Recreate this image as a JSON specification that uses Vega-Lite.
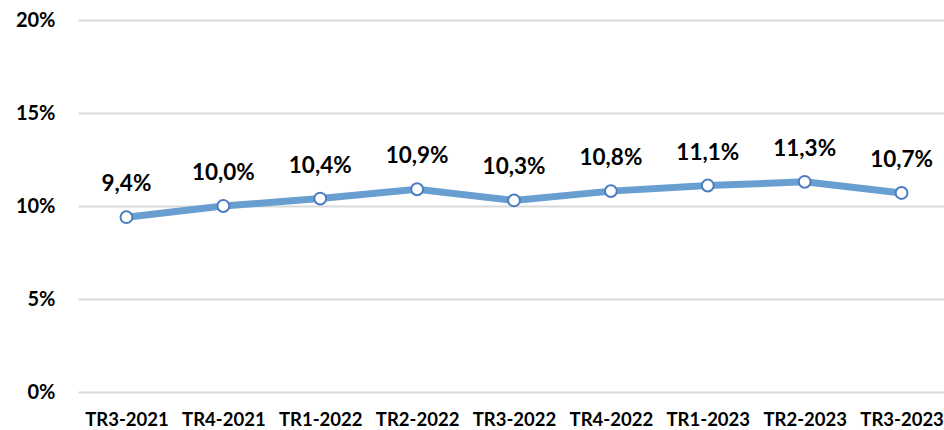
{
  "$schema": "https://vega.github.io/schema/vega-lite/v6.json",
  "width": 872,
  "height": 372,
  "autosize": "none",
  "padding": {"left": 78, "top": 20, "right": 0, "bottom": 38},
  "background": "white",
  "config": {"view": {"stroke": null}, "font": "Lato"},
  "data": {"values": [
    {"q": "TR3-2021", "v": 9.4},
    {"q": "TR4-2021", "v": 10.0},
    {"q": "TR1-2022", "v": 10.4},
    {"q": "TR2-2022", "v": 10.9},
    {"q": "TR3-2022", "v": 10.3},
    {"q": "TR4-2022", "v": 10.8},
    {"q": "TR1-2023", "v": 11.1},
    {"q": "TR2-2023", "v": 11.3},
    {"q": "TR3-2023", "v": 10.7}
  ]},
  "encoding": {
    "x": {"field": "q", "type": "ordinal", "sort": null, "scale": {"type": "point", "padding": 0.5},
      "axis": {"title": null, "labelAngle": 0, "domain": false, "ticks": false, "grid": false,
        "labelFont": "Lato", "labelFontWeight": "bold", "labelFontSize": 18.5, "labelColor": "#000000", "labelPadding": 18}},
    "y": {"field": "v", "type": "quantitative", "scale": {"domain": [0, 20]},
      "axis": {"title": null, "values": [0, 5, 10, 15, 20], "labelExpr": "datum.value + '%'", "domain": false, "ticks": false,
        "gridColor": "#d9d9d9", "gridWidth": 2, "labelFont": "Lato", "labelFontWeight": "bold", "labelFontSize": 20,
        "labelColor": "#000000", "labelPadding": 23}}
  },
  "layer": [
    {"mark": {"type": "line", "color": "#699fd0", "strokeWidth": 7}},
    {"mark": {"type": "point", "filled": true, "fill": "white", "stroke": "#4a7cc0", "strokeWidth": 2, "size": 140, "opacity": 1}},
    {"mark": {"type": "text", "dy": -33, "fontSize": 22.5, "fontWeight": "bold", "color": "#000000", "font": "Lato"},
      "transform": [{"calculate": "replace(format(datum.v, '.1f'), '.', ',') + '%'", "as": "lab"}],
      "encoding": {"text": {"field": "lab"}}}
  ]
}
